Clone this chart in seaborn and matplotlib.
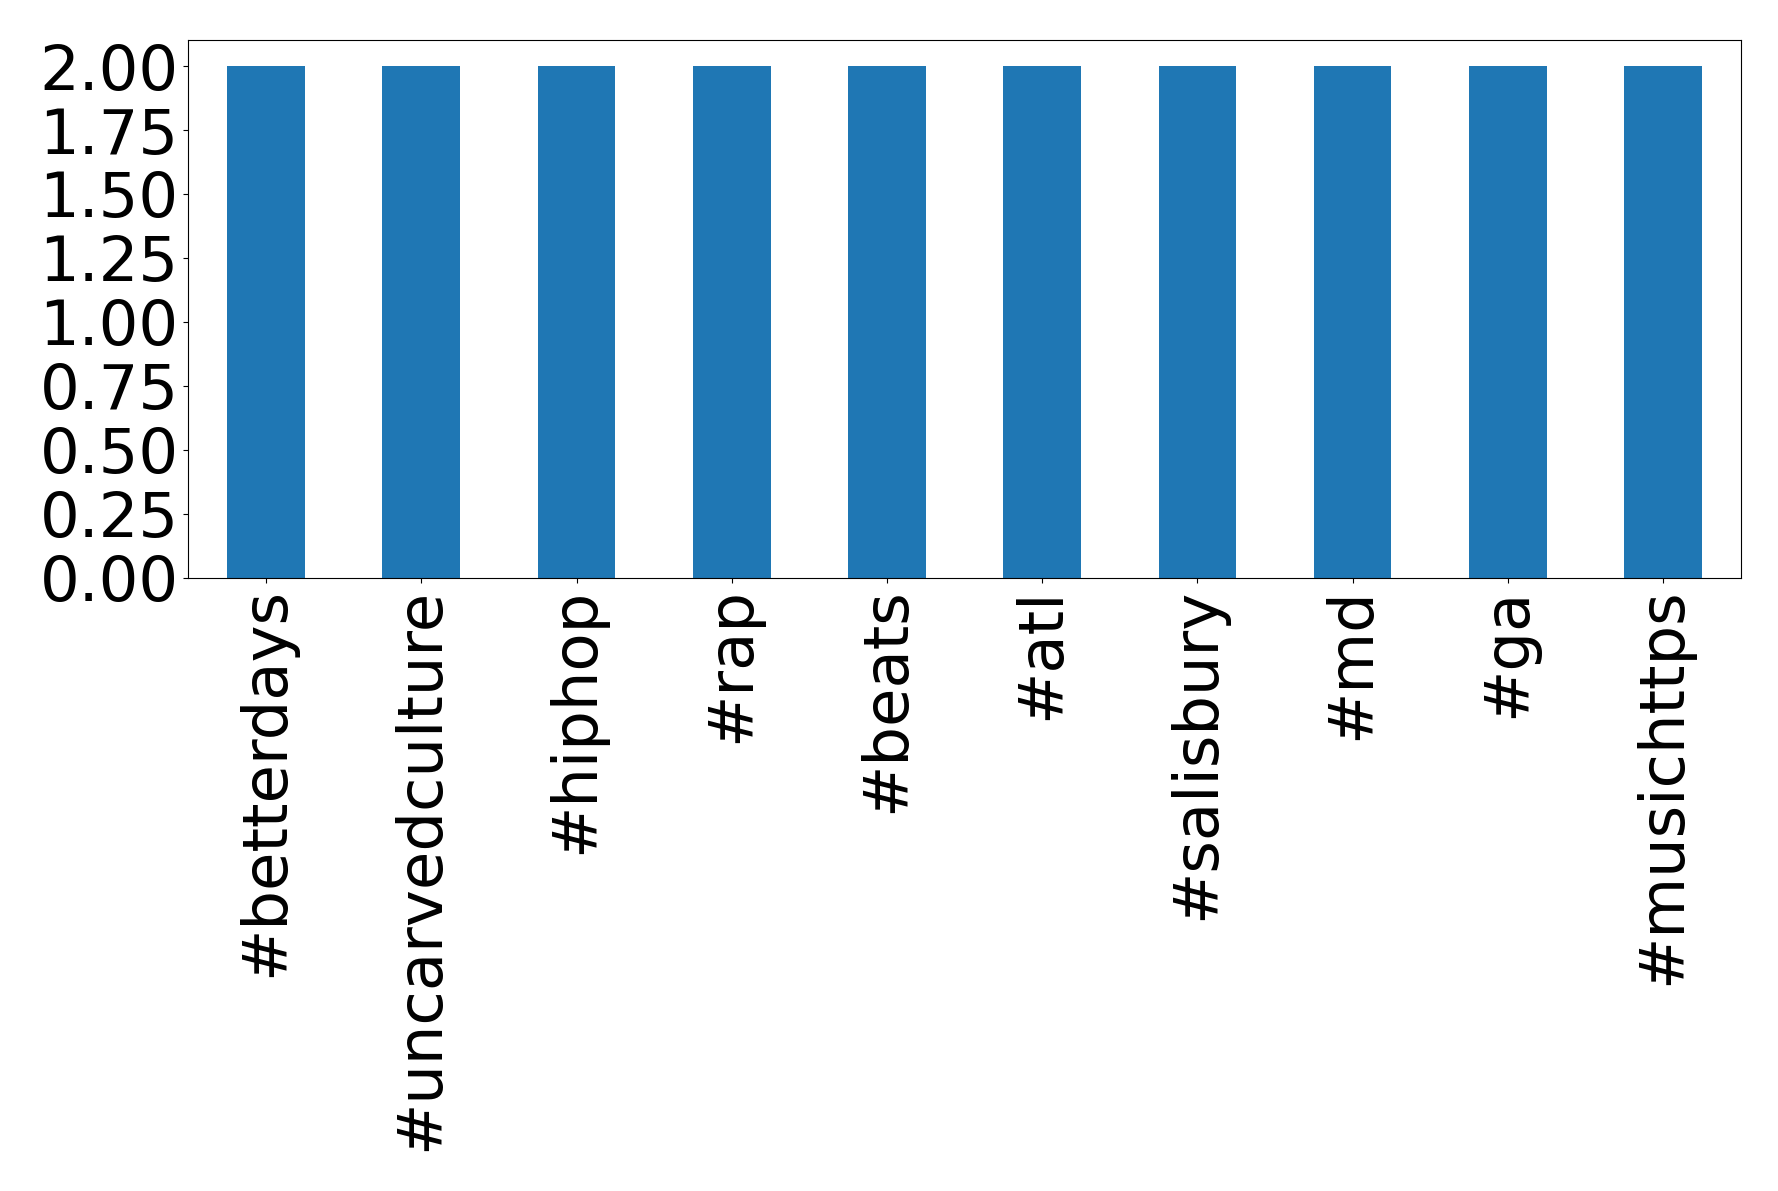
import matplotlib
matplotlib.use('Agg')
import matplotlib.pyplot as plt
import seaborn as sns
import pandas as pd

# hashtag counts
tags = ['#betterdays', '#uncarvedculture', '#hiphop', '#rap', '#beats',
        '#atl', '#salisbury', '#md', '#ga', '#musichttps']
counts = [2, 2, 2, 2, 2, 2, 2, 2, 2, 2]

df = pd.DataFrame({'tag': tags, 'count': counts})

fig = plt.figure(figsize=(17.78, 11.91), dpi=100)
ax = fig.add_axes([0.106, 0.515, 0.873, 0.451])
sns.barplot(data=df, x='tag', y='count', color='#1f77b4', saturation=1,
            width=0.5, ax=ax)
ax.set_xlabel('')
ax.set_ylabel('')
ax.set_xlim(-0.5, len(tags) - 0.5)
ax.set_ylim(0, 2.1)
ax.set_yticks([0, 0.25, 0.5, 0.75, 1.0, 1.25, 1.5, 1.75, 2.0])
ax.set_yticklabels(['{:.2f}'.format(v) for v in ax.get_yticks()])
ax.tick_params(axis='both', labelsize=45)
plt.setp(ax.get_xticklabels(), rotation=90)
fig.savefig('out.png', dpi=100)
